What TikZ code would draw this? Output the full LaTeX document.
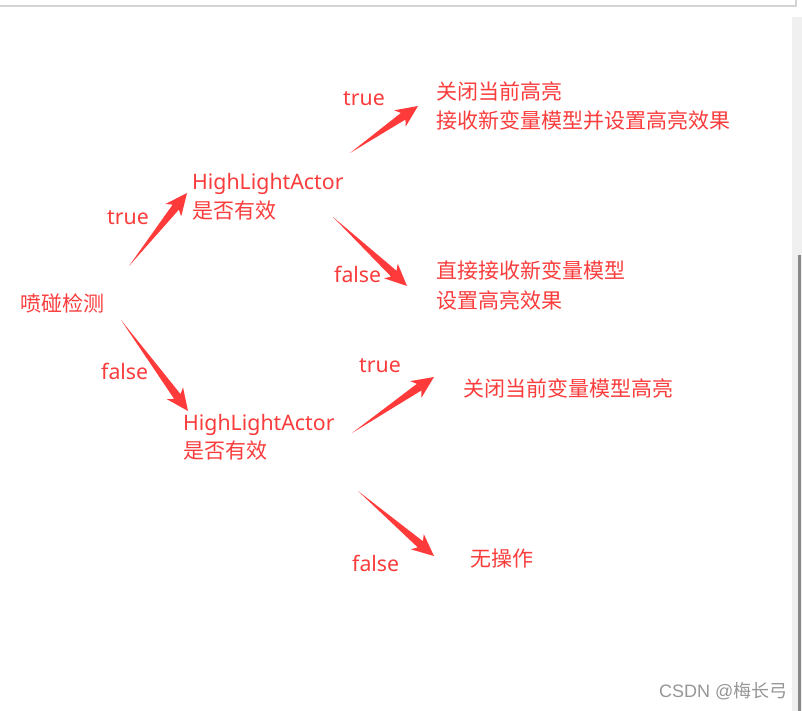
\documentclass[tikz,border=0pt]{standalone}
\usepackage{fontspec}
\setmainfont{Noto Sans CJK SC}
\newfontfamily\latinf{Noto Sans}
\newfontfamily\wmf{Liberation Sans}
\usetikzlibrary{calc}
\definecolor{txtred}{RGB}{250,60,60}
\definecolor{arrred}{RGB}{255,58,58}
\definecolor{edgegray}{RGB}{212,212,212}
\definecolor{stripgray}{RGB}{240,240,240}
\definecolor{bargray}{RGB}{136,136,136}
\definecolor{markgray}{RGB}{150,150,150}
\newcommand{\fatarrow}[2]{%
  \coordinate (hb) at ($(#2)!22pt!(#1)$);
  \coordinate (sb) at ($(#2)!18pt!(#1)$);
  \fill[arrred] (#1) -- ($(sb)!4pt!90:(#2)$) -- ($(hb)!10pt!90:(#2)$) -- (#2)
     -- ($(hb)!10pt!-90:(#2)$) -- ($(sb)!4pt!-90:(#2)$) -- cycle;}
\tikzset{
  lbl/.style={anchor=west, inner sep=0pt, text=txtred, font=\fontsize{21}{24}\selectfont, text height=0.88em, text depth=0.12em, yshift=-4pt},
  lat/.style={lbl, font=\latinf\fontsize{21.3}{24}\selectfont},
  wm/.style={anchor=west, inner sep=0pt, text=markgray, font=\fontsize{18}{20}\selectfont, text height=0.88em, text depth=0.12em, yshift=-3pt}
}
\begin{document}
\begin{tikzpicture}[x=1pt,y=-1pt]
\useasboundingbox (0,0) rectangle (802,711);
\fill[white] (0,0) rectangle (802,711);
% frame pieces
\draw[edgegray, line width=1.5pt] (0,6) -- (796,6) -- (796,0);
\fill[stripgray] (792,17) rectangle (802,711);
\fill[bargray] (798,255) rectangle (801,711);
% texts
\node[lbl] (root) at (20,304) {喷碰检测};
\node[lat] (t1) at (107,217) {true};
\node[lat] (h1) at (192,182) {HighLightActor};
\node[lbl] (h1b) at (192,211) {是否有效};
\node[lat] (t2) at (343,98) {true};
\node[lbl] (r1a) at (436,92) {关闭当前高亮};
\node[lbl] (r1b) at (436,121) {接收新变量模型并设置高亮效果};
\node[lat] (f2) at (334,275) {false};
\node[lbl] (r2a) at (436,271) {直接接收新变量模型};
\node[lbl] (r2b) at (436,301) {设置高亮效果};
\node[lat] (f1) at (101,372) {false};
\node[lat] (h2) at (183,423) {HighLightActor};
\node[lbl] (h2b) at (183,451) {是否有效};
\node[lat] (t3) at (359,365) {true};
\node[lbl] (r3) at (463,389) {关闭当前变量模型高亮};
\node[lat] (f3) at (352,564) {false};
\node[lbl] (r4) at (470,559) {无操作};
\node[wm] (mark) at (659,691) {{\wmf CSDN @}梅长弓};
% arrow end points
\coordinate (a1s) at (129,266); \coordinate (a1e) at (187,193);
\coordinate (a2s) at (350,153); \coordinate (a2e) at (418,106);
\coordinate (a3s) at (333,217); \coordinate (a3e) at (407,286);
\coordinate (a4s) at (121,320); \coordinate (a4e) at (188,411);
\coordinate (a5s) at (352,433); \coordinate (a5e) at (434,377);
\coordinate (a6s) at (358,491); \coordinate (a6e) at (434,556);
\fatarrow{a1s}{a1e}
\fatarrow{a2s}{a2e}
\fatarrow{a3s}{a3e}
\fatarrow{a4s}{a4e}
\fatarrow{a5s}{a5e}
\fatarrow{a6s}{a6e}
\end{tikzpicture}
\end{document}
